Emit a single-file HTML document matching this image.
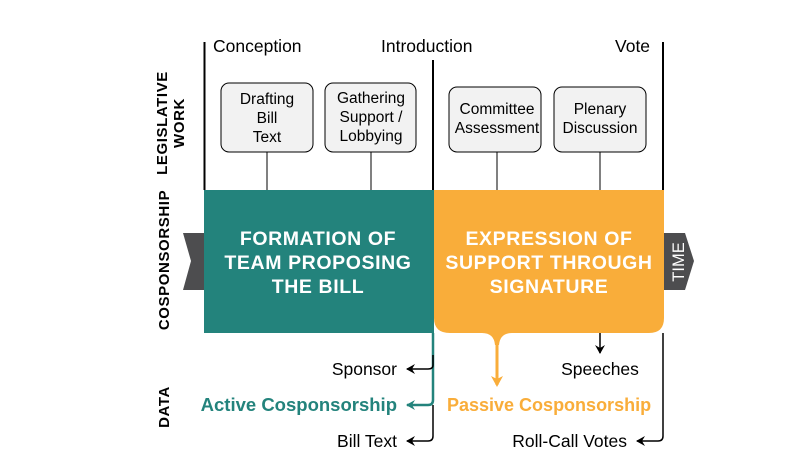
<!DOCTYPE html>
<html><head><style>
html,body{margin:0;padding:0;background:#fff;}
svg{display:block;font-family:"Liberation Sans","DejaVu Sans",sans-serif;}
</style></head><body>
<svg width="808" height="455" viewBox="0 0 808 455" xmlns="http://www.w3.org/2000/svg">
<defs>
<marker id="ab" markerWidth="10" markerHeight="10" refX="8" refY="5" orient="auto" markerUnits="userSpaceOnUse"><path d="M0,0 L9,5 L0,10 L3,5 Z" fill="#000"/></marker>
<marker id="at" markerWidth="10" markerHeight="10" refX="8" refY="5" orient="auto" markerUnits="userSpaceOnUse"><path d="M0,0 L9,5 L0,10 L3,5 Z" fill="#23837c"/></marker>
<marker id="ao" markerWidth="12" markerHeight="12" refX="9" refY="6" orient="auto" markerUnits="userSpaceOnUse"><path d="M0,0 L11,6 L0,12 L3,6 Z" fill="#f9ad3a"/></marker>
</defs>
<line x1="204.5" y1="42" x2="204.5" y2="190" stroke="#000" stroke-width="2"/>
<line x1="433" y1="60" x2="433" y2="190" stroke="#000" stroke-width="2"/>
<line x1="663" y1="42" x2="663" y2="190" stroke="#000" stroke-width="2"/>
<text x="213" y="52" font-size="17.5">Conception</text>
<text x="381" y="52" font-size="17.5">Introduction</text>
<text x="615" y="52" font-size="17.5">Vote</text>
<g fill="#f2f2f2" stroke="#000" stroke-width="1">
<rect x="221" y="83" width="92" height="69" rx="8"/>
<rect x="325" y="83" width="91" height="69" rx="8"/>
<rect x="449" y="87" width="92" height="65" rx="8"/>
<rect x="554" y="87" width="92" height="65" rx="8"/>
</g>
<g stroke="#000" stroke-width="1">
<line x1="267" y1="152" x2="267" y2="190"/>
<line x1="371" y1="152" x2="371" y2="190"/>
<line x1="497" y1="152" x2="497" y2="190"/>
<line x1="600" y1="152" x2="600" y2="190"/>
</g>
<g font-size="15.5" text-anchor="middle">
<text x="267" y="104">Drafting</text><text x="267" y="123">Bill</text><text x="267" y="142">Text</text>
<text x="371" y="103">Gathering</text><text x="371" y="122">Support /</text><text x="371" y="141">Lobbying</text>
<text x="497" y="114">Committee</text><text x="497" y="133">Assessment</text>
<text x="600" y="114">Plenary</text><text x="600" y="133">Discussion</text>
</g>
<path d="M183,233 L204,233 L204,290 L183,290 L191,261 Z" fill="#4d4d4f"/>
<path d="M664,233 L685,233 L694,261 L685,290 L664,290 Z" fill="#4d4d4f"/>
<text transform="translate(684,262) rotate(-90)" font-size="16.5" fill="#fff" text-anchor="middle">TIME</text>
<rect x="204" y="190" width="230" height="143" fill="#23837c"/>
<path d="M434,190 L664,190 L664,318 Q664,333 649,333 L512,333 Q500,333 499,345 L495,345 Q494,333 482,333 L450,333 Q434,333 434,318 Z" fill="#f9ad3a"/>
<line x1="497" y1="340" x2="497" y2="385" stroke="#f9ad3a" stroke-width="3" marker-end="url(#ao)"/>
<g font-size="19.5" font-weight="bold" fill="#fff" text-anchor="middle" letter-spacing="0.6">
<text x="318" y="245">FORMATION OF</text><text x="318" y="269">TEAM PROPOSING</text><text x="318" y="293">THE BILL</text>
<text x="549" y="245">EXPRESSION OF</text><text x="549" y="269">SUPPORT THROUGH</text><text x="549" y="293">SIGNATURE</text>
</g>
<path d="M433,333 L433,400 Q433,405 428,405 L407,405" stroke="#23837c" stroke-width="2.5" fill="none" marker-end="url(#at)"/>
<path d="M433,355 L433,365 Q433,369 428,369 L407,369" stroke="#000" stroke-width="1.5" fill="none" marker-end="url(#ab)"/>
<path d="M433,405 L433,436 Q433,441 428,441 L407,441" stroke="#000" stroke-width="1.5" fill="none" marker-end="url(#ab)"/>
<path d="M663,333 L663,436 Q663,441 658,441 L637,441" stroke="#000" stroke-width="1.5" fill="none" marker-end="url(#ab)"/>
<line x1="600" y1="333" x2="600" y2="353" stroke="#000" stroke-width="1.5" marker-end="url(#ab)"/>
<g font-size="17.5">
<text x="397" y="375" text-anchor="end">Sponsor</text>
<text x="397" y="411" text-anchor="end" font-weight="bold" fill="#23837c" font-size="18.5">Active Cosponsorship</text>
<text x="397" y="447" text-anchor="end">Bill Text</text>
<text x="600" y="375" text-anchor="middle">Speeches</text>
<text x="447" y="411" font-weight="bold" fill="#f9ad3a" font-size="18">Passive Cosponsorship</text>
<text x="627" y="447" text-anchor="end">Roll-Call Votes</text>
</g>
<g font-size="15" font-weight="bold" text-anchor="middle" letter-spacing="0.6">
<text transform="translate(167,123) rotate(-90)">LEGISLATIVE</text>
<text transform="translate(184,123) rotate(-90)">WORK</text>
<text transform="translate(169,260) rotate(-90)">COSPONSORSHIP</text>
<text transform="translate(169,407) rotate(-90)">DATA</text>
</g>
</svg>
</body></html>
